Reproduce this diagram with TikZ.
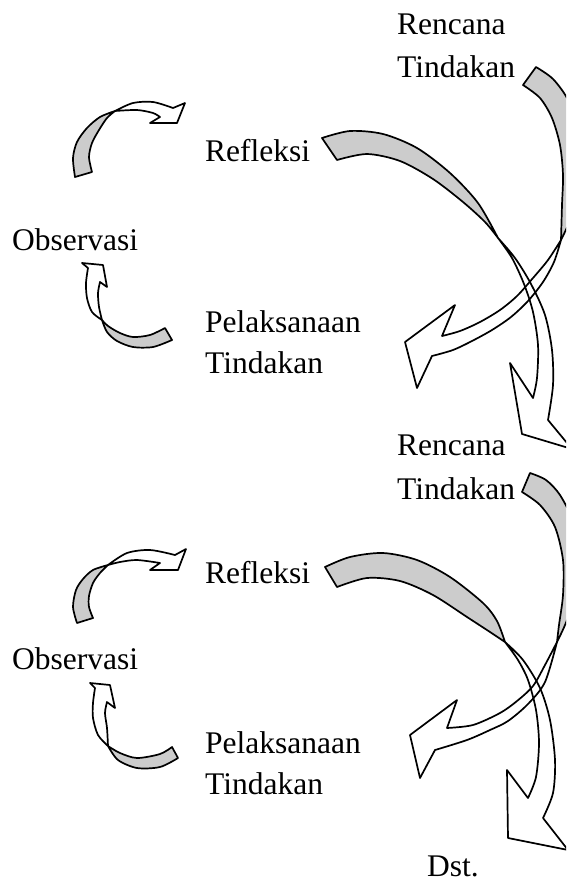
\documentclass[tikz,border=0pt]{standalone}
\usepackage{fontspec}
\setmainfont{Liberation Serif}
\newcommand{\ribbons}[2]{%
  % big arrow: Tindakan -> Pelaksanaan (block 1)
  \path[#1] plot[smooth] coordinates {(523,85)(540,98)(552,118)(560,145)(563,175)(562,205)(561,240)}
     -- plot[smooth] coordinates {(561,240)(570,220)(578,190)(580,160)(577,130)(568,100)(553,79)(536,67)} -- cycle;
  \path[#2] plot[smooth] coordinates {(561,240)(548,260)(533,278)(517,296)(500,310)(480,322)(460,331)(442,336)}
     -- (455,305) -- (405,342) -- (417,388)
     -- plot[smooth] coordinates {(432,356)(453,350)(472,341)(492,330)(511,317)(528,301)(543,282)(554,262)(561,240)} -- cycle;
  % big arrow: Refleksi -> Rencana (block 1)
  \path[#1] plot[smooth] coordinates {(322,138)(350,131)(383,134)(417,148)(450,173)(478,203)(498,238)}
     -- plot[smooth] coordinates {(498,238)(485,222)(463,202)(433,179)(400,161)(367,154)(337,160)} -- cycle;
  \path[#2] plot[smooth] coordinates {(498,238)(512,258)(524,284)(533,312)(538,345)(537,378)(533,398)}
     -- (510,363) -- (522,434) -- (572,449)
     -- plot[smooth] coordinates {(548,420)(553,385)(552,350)(545,315)(531,284)(515,258)(498,238)} -- cycle;
  % small arrow: Observasi -> Refleksi (block 1)
  \path[#1] plot[smooth] coordinates {(75,177)(73,158)(77,142)(87,128)(100,117)(115,111)}
     -- plot[smooth] coordinates {(115,111)(107,118)(99,130)(92,143)(89,157)(92,172)} -- cycle;
  \path[#2] plot[smooth] coordinates {(115,111)(133,103)(153,102)(173,108)}
     -- (185,103) -- (177,123) -- (150,123)
     -- plot[smooth] coordinates {(160,117)(153,113)(137,110)(115,111)} -- cycle;
  % small arrow: Pelaksanaan -> Observasi (block 1)
  \path[#1] plot[smooth] coordinates {(165,328)(150,335)(133,337)(120,333)(108,326)(102,320)}
     -- plot[smooth] coordinates {(102,320)(107,332)(117,341)(133,347)(153,347)(172,340)} -- cycle;
  \path[#2] plot[smooth] coordinates {(102,320)(92,312)(87,298)(86,283)(88,268)}
     -- (82,263) -- (103,265) -- (107,287)
     -- plot[smooth] coordinates {(100,282)(98,293)(99,307)(102,320)} -- cycle;
  % big arrow: Tindakan -> Pelaksanaan (block 2)
  \path[#1] plot[smooth] coordinates {(522,492)(540,505)(555,527)(563,560)(563,595)(559,625)(557,642)}
     -- plot[smooth] coordinates {(557,642)(567,620)(575,590)(577,555)(572,520)(560,495)(546,480)(530,473)} -- cycle;
  \path[#2] plot[smooth] coordinates {(557,642)(545,665)(533,686)(517,701)(500,713)(473,725)(447,728)}
     -- (457,700) -- (410,735) -- (420,778)
     -- plot[smooth] coordinates {(435,750)(467,740)(490,730)(508,721)(528,704)(545,682)(557,642)} -- cycle;
  % big arrow: Refleksi -> Dst. (block 2)
  \path[#1] plot[smooth] coordinates {(325,567)(350,557)(383,553)(417,560)(450,577)(483,603)(497,621)(505,642)}
     -- plot[smooth] coordinates {(505,642)(490,632)(467,617)(433,595)(400,581)(367,578)(337,587)} -- cycle;
  \path[#2] plot[smooth] coordinates {(505,642)(518,660)(528,680)(536,710)(539,743)(536,777)(528,798)}
     -- (507,770) -- (508,838) -- (568,850)
     -- plot[smooth] coordinates {(543,818)(553,793)(555,760)(550,720)(540,688)(523,660)(505,642)} -- cycle;
  % small arrow: Observasi -> Refleksi (block 2)
  \path[#1] plot[smooth] coordinates {(77,623)(73,607)(76,590)(83,579)(93,570)(108,565)}
     -- plot[smooth] coordinates {(108,565)(100,573)(93,583)(89,596)(89,607)(93,618)} -- cycle;
  \path[#2] plot[smooth] coordinates {(108,565)(127,553)(150,550)(175,555)}
     -- (186,549) -- (178,570) -- (150,570)
     -- plot[smooth] coordinates {(160,563)(137,560)(120,562)(108,565)} -- cycle;
  % small arrow: Pelaksanaan -> Observasi (block 2)
  \path[#1] plot[smooth] coordinates {(172,747)(160,754)(137,758)(120,753)(108,746)}
     -- plot[smooth] coordinates {(108,746)(118,760)(137,768)(160,767)(178,758)} -- cycle;
  \path[#2] plot[smooth] coordinates {(108,746)(98,735)(93,718)(93,703)(95,688)}
     -- (90,683) -- (110,685) -- (115,708)
     -- plot[smooth] coordinates {(107,702)(105,713)(107,728)(108,746)} -- cycle;
}
\begin{document}
\begin{tikzpicture}[x=1pt,y=-1pt,
  lbl/.style={font=\fontsize{31.5}{38}\selectfont, inner sep=0pt, anchor=base west},
  back/.style={fill=gray!40},
  front/.style={fill=white},
  edge/.style={draw=black, line width=1.7pt, line join=round}]
\useasboundingbox (0,0) rectangle (566,884);
\clip (0,0) rectangle (566,884);
\ribbons{back}{front}
\ribbons{edge}{edge}
\node[lbl] (ren1) at (397,34) {Rencana};
\node[lbl] (tin1) at (397,77) {Tindakan};
\node[lbl] (ref1) at (205,161) {Refleksi};
\node[lbl] (obs1) at (12,250) {Observasi};
\node[lbl] (pel1) at (205,332) {Pelaksanaan};
\node[lbl] (tinb1) at (205,373) {Tindakan};
\node[lbl] (ren2) at (397,455) {Rencana};
\node[lbl] (tin2) at (397,499) {Tindakan};
\node[lbl] (ref2) at (205,583) {Refleksi};
\node[lbl] (obs2) at (12,669) {Observasi};
\node[lbl] (pel2) at (205,753) {Pelaksanaan};
\node[lbl] (tinb2) at (205,794) {Tindakan};
\node[lbl] (dst) at (427,876) {Dst.};
\end{tikzpicture}
\end{document}
